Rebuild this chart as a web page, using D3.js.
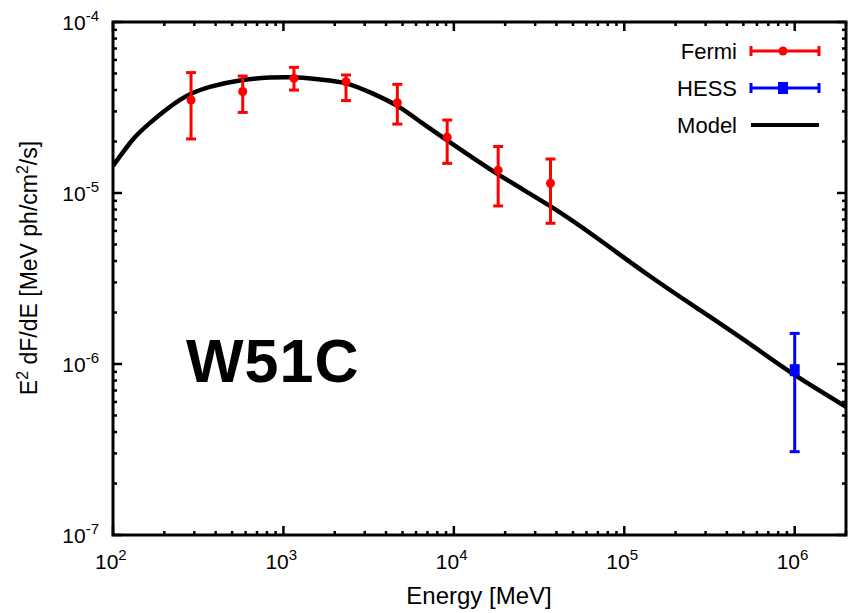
<!DOCTYPE html>
<html>
<head>
<meta charset="utf-8">
<script src="https://cdn.jsdelivr.net/npm/d3@7"></script>
<style>
  body { margin: 0; background: white; }
  text { font-family: "Liberation Sans", Arial, sans-serif; }
</style>
</head>
<body>
<div id="chart"></div>
<script>
// Fermi points: energy [MeV], E^2 dF/dE, lower and upper error bounds
const fermiE    = [287, 577, 1153, 2330, 4660, 9140, 18200, 36900];
const fermiVal  = [3.5e-5, 3.92e-5, 4.69e-5, 4.47e-5, 3.37e-5, 2.12e-5, 1.36e-5, 1.14e-5];
const fermiLow  = [2.07e-5, 2.96e-5, 4.0e-5, 3.47e-5, 2.53e-5, 1.49e-5, 8.4e-6, 6.65e-6];
const fermiHigh = [5.06e-5, 4.83e-5, 5.43e-5, 4.9e-5, 4.32e-5, 2.67e-5, 1.87e-5, 1.58e-5];

const hessE    = [1.0e6];
const hessVal  = [9.2e-7];
const hessLow  = [3.07e-7];
const hessHigh = [1.51e-6];

// model curve
const modelE   = [100, 130, 165, 247, 370, 577, 830, 1150, 1640, 2330, 3300, 4660, 6500, 9100,
                  18100, 36600, 71800, 141000, 277000, 545000, 1e6, 2e6];
const modelVal = [1.44e-5, 2.04e-5, 2.57e-5, 3.5e-5, 4.17e-5, 4.58e-5, 4.73e-5, 4.75e-5, 4.61e-5, 4.38e-5, 3.84e-5, 3.23e-5, 2.57e-5, 2.04e-5,
                  1.29e-5, 8.4e-6, 5.31e-6, 3.27e-6, 2.07e-6, 1.31e-6, 8.63e-7, 5.62e-7];

const xDecades = [2, 3, 4, 5, 6];
const yDecades = [-4, -5, -6, -7];
const legendNames = ["Fermi", "HESS", "Model"];
const legendColors = ["#ff0000", "#0000ff", "#000000"];

const width = 852, height = 613;
const pLeft = 113, pRight = 846, pTop = 22, pBottom = 535;

const svg = d3.select("#chart").append("svg")
  .attr("width", width).attr("height", height);

const x = d3.scaleLog().domain([100, 2e6]).range([pLeft, pRight]);
const y = d3.scaleLog().domain([1e-7, 1e-4]).range([pBottom, pTop]);

// minor + major ticks, drawn inward on all four sides
const ticks = svg.append("g").attr("stroke", "black").attr("stroke-width", 2.5);
const xMinor = [];
for (let d = 2; d <= 6; d++) for (let m = 2; m <= 9; m++) {
  const v = m * Math.pow(10, d);
  if (v <= 2e6) xMinor.push(v);
}
const yMinor = [];
for (let d = -7; d < -4; d++) for (let m = 2; m <= 9; m++) yMinor.push(m * Math.pow(10, d));

xMinor.forEach(v => {
  ticks.append("line").attr("x1", x(v)).attr("x2", x(v)).attr("y1", pBottom).attr("y2", pBottom - 4);
  ticks.append("line").attr("x1", x(v)).attr("x2", x(v)).attr("y1", pTop).attr("y2", pTop + 4);
});
xDecades.forEach(d => {
  const v = Math.pow(10, d);
  ticks.append("line").attr("x1", x(v)).attr("x2", x(v)).attr("y1", pBottom).attr("y2", pBottom - 9);
  ticks.append("line").attr("x1", x(v)).attr("x2", x(v)).attr("y1", pTop).attr("y2", pTop + 9);
});
yMinor.forEach(v => {
  ticks.append("line").attr("x1", pLeft).attr("x2", pLeft + 4).attr("y1", y(v)).attr("y2", y(v));
  ticks.append("line").attr("x1", pRight).attr("x2", pRight - 4).attr("y1", y(v)).attr("y2", y(v));
});
yDecades.forEach(d => {
  const v = Math.pow(10, d);
  ticks.append("line").attr("x1", pLeft).attr("x2", pLeft + 9).attr("y1", y(v)).attr("y2", y(v));
  ticks.append("line").attr("x1", pRight).attr("x2", pRight - 9).attr("y1", y(v)).attr("y2", y(v));
});

// tick labels with superscript exponents
xDecades.forEach(d => {
  const t = svg.append("text")
    .attr("x", x(Math.pow(10, d)) - 18).attr("y", 569)
    .attr("font-size", 21).attr("fill", "black");
  t.append("tspan").text("10");
  t.append("tspan").attr("dy", -9).attr("font-size", 15).text(d);
});
yDecades.forEach(d => {
  const t = svg.append("text")
    .attr("x", 99).attr("y", y(Math.pow(10, d)) + 8)
    .attr("text-anchor", "end")
    .attr("font-size", 21).attr("fill", "black");
  t.append("tspan").text("10");
  t.append("tspan").attr("dy", -9).attr("font-size", 15).text(d);
});

// axis titles
svg.append("text")
  .attr("x", 479).attr("y", 604)
  .attr("text-anchor", "middle").attr("font-size", 24)
  .text("Energy [MeV]");

const yt = svg.append("text")
  .attr("transform", "translate(37," + 268 + ") rotate(-90)")
  .attr("text-anchor", "middle").attr("font-size", 23);
yt.append("tspan").text("E");
yt.append("tspan").attr("dy", -9).attr("font-size", 16).text("2");
yt.append("tspan").attr("dy", 9).text(" dF/dE [MeV ph/cm");
yt.append("tspan").attr("dy", -9).attr("font-size", 16).text("2");
yt.append("tspan").attr("dy", 9).text("/s]");

// clip for data
svg.append("clipPath").attr("id", "plot")
  .append("rect").attr("x", pLeft).attr("y", pTop)
  .attr("width", pRight - pLeft).attr("height", pBottom - pTop);

const plot = svg.append("g").attr("clip-path", "url(#plot)");

// model curve
const line = d3.line()
  .x((d, i) => x(modelE[i]))
  .y(d => y(d))
  .curve(d3.curveNatural);
plot.append("path")
  .datum(modelVal)
  .attr("d", line)
  .attr("fill", "none").attr("stroke", "black").attr("stroke-width", 4.5);

function errorBars(es, vals, lows, highs, color, square) {
  const g = plot.append("g").attr("stroke", color).attr("fill", color);
  es.forEach((e, i) => {
    const cx = x(e);
    g.append("line").attr("x1", cx).attr("x2", cx)
      .attr("y1", y(lows[i])).attr("y2", y(highs[i])).attr("stroke-width", 3);
    [lows[i], highs[i]].forEach(v => {
      g.append("line").attr("x1", cx - 5).attr("x2", cx + 5)
        .attr("y1", y(v)).attr("y2", y(v)).attr("stroke-width", 3);
    });
    if (square) {
      g.append("rect").attr("x", cx - 5).attr("y", y(vals[i]) - 6)
        .attr("width", 10).attr("height", 12).attr("stroke", "none");
    } else {
      g.append("circle").attr("cx", cx).attr("cy", y(vals[i])).attr("r", 4.5)
        .attr("stroke", "none");
    }
  });
}
errorBars(fermiE, fermiVal, fermiLow, fermiHigh, legendColors[0], false);
errorBars(hessE, hessVal, hessLow, hessHigh, legendColors[1], true);

// frame
svg.append("rect")
  .attr("x", pLeft).attr("y", pTop)
  .attr("width", pRight - pLeft).attr("height", pBottom - pTop)
  .attr("fill", "none").attr("stroke", "black").attr("stroke-width", 3);

// legend
const lg = svg.append("g");
legendNames.forEach((name, i) => {
  const cy = 51 + i * 37;
  lg.append("text").attr("x", 737).attr("y", cy + 8)
    .attr("text-anchor", "end").attr("font-size", 22).text(name);
  const c = legendColors[i];
  lg.append("line").attr("x1", 751).attr("x2", 819).attr("y1", cy).attr("y2", cy)
    .attr("stroke", c).attr("stroke-width", i === 2 ? 4 : 3);
  if (i < 2) {
    [751, 819].forEach(px => {
      lg.append("line").attr("x1", px).attr("x2", px).attr("y1", cy - 5).attr("y2", cy + 5)
        .attr("stroke", c).attr("stroke-width", 3);
    });
    if (i === 0) {
      lg.append("circle").attr("cx", 783).attr("cy", cy).attr("r", 4.5).attr("fill", c);
    } else {
      lg.append("rect").attr("x", 778).attr("y", cy - 6).attr("width", 10).attr("height", 12).attr("fill", c);
    }
  }
});

// source label
svg.append("text")
  .attr("x", 186).attr("y", 382)
  .attr("font-size", 61).attr("font-weight", "bold")
  .attr("letter-spacing", 1)
  .text("W51C");
</script>
</body>
</html>
